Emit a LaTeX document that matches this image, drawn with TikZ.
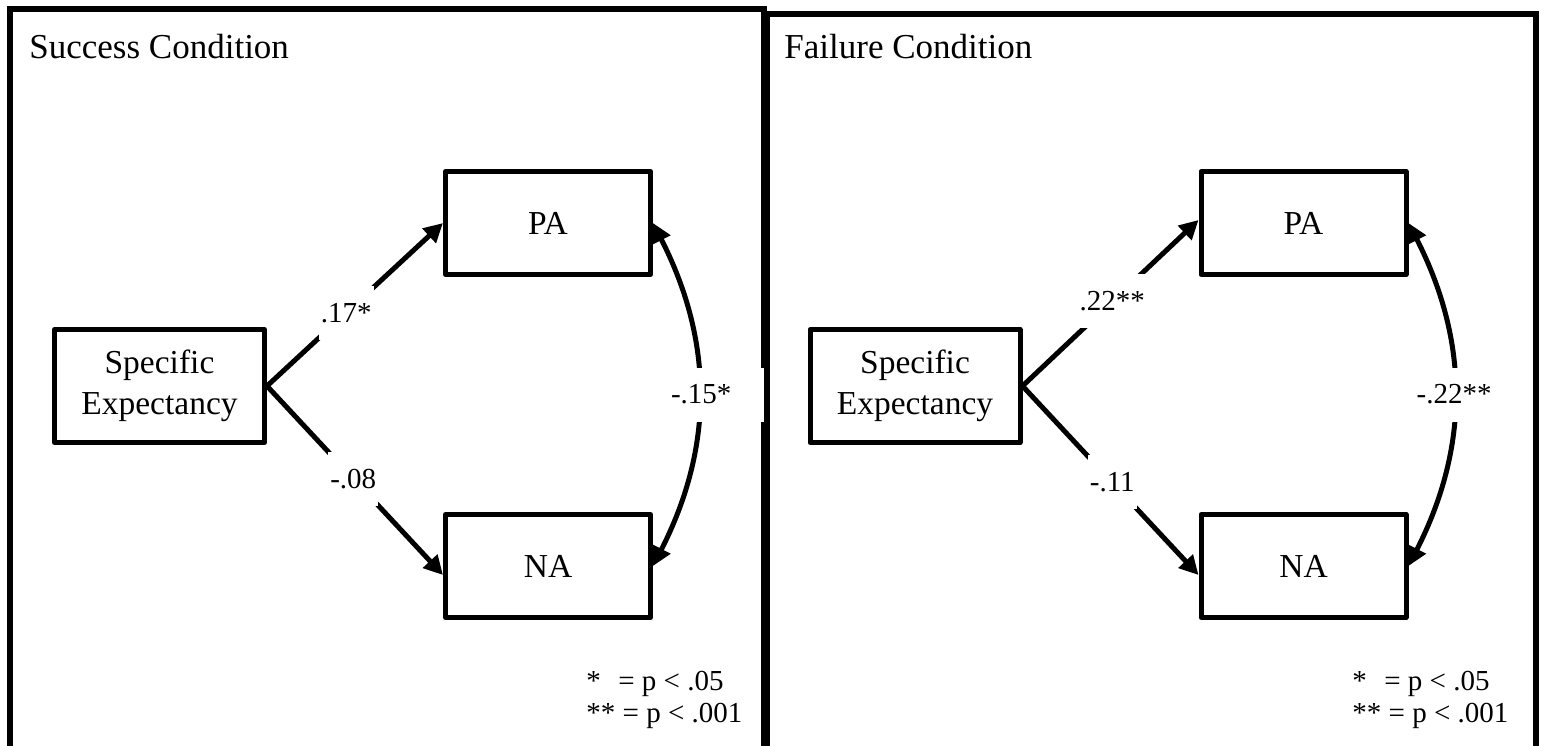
\documentclass[tikz,border=0pt]{standalone}
\usepackage{fontspec}
\setmainfont{Liberation Serif}
\usetikzlibrary{arrows.meta}
\begin{document}
\begin{tikzpicture}[x=0.5pt,y=-0.5pt,
  panel/.style={draw=black, line width=2.75pt},
  var/.style={draw=black, line width=2.5pt, line join=round, inner sep=0pt, minimum width=102.5pt, minimum height=51.5pt, font=\fontsize{16.75}{20.5}\selectfont},
  sebox/.style={var, minimum width=105pt, minimum height=56.5pt, align=center},
  effect/.style={line width=2.5pt, -{Triangle[length=9.5pt,width=9.5pt]}},
  cov/.style={line width=2.5pt, {Triangle[length=9.5pt,width=9.5pt]}-{Triangle[length=9.5pt,width=9.5pt]}},
  coef/.style={fill=white, inner xsep=1pt, inner ysep=0pt, minimum height=27pt, font=\fontsize{14.5}{17}\selectfont},
  title/.style={anchor=base west, inner sep=0pt, font=\fontsize{17.5}{20}\selectfont},
  note/.style={anchor=base west, inner sep=0pt, font=\fontsize{14.5}{17}\selectfont}]
\useasboundingbox (0,0) rectangle (1541,745);
\clip (0,0) rectangle (1541,745);
\fill[white] (0,0) rectangle (1541,745);

% ---------- left panel ----------
\draw[panel] (10,9) rectangle (764,800);
\node[title] (t1) at (29,58) {Success Condition};
\node[sebox] (se1) at (159.5,386) {Specific\\Expectancy};
\node[var] (pa1) at (548,223) {PA};
\node[var] (na1) at (548,566) {NA};
\draw[effect] (se1.east) -- node[coef,pos=0.45] {.17*} (pa1.west);
\draw[effect] (se1.east) -- node[coef,pos=0.49] {-.08} ([yshift=-4.5pt]na1.west);
\draw[cov] (pa1.east) to[bend left=27] node[coef, anchor=west, xshift=-16pt, text width=46.5pt, align=left] {-.15*} (na1.east);
\node[note] (n1a) at (586,690) {*\hspace{0.6em}= p < .05};
\node[note] (n1b) at (586,722) {** = p < .001};

% ---------- right panel ----------
\draw[panel] (767,14) rectangle (1536,800);
\node[title] (t2) at (784,58) {Failure Condition};
\node[sebox] (se2) at (915,386) {Specific\\Expectancy};
\node[var] (pa2) at (1303.5,223) {PA};
\node[var] (na2) at (1303.5,566) {NA};
\draw[effect] (se2.east) -- node[coef,pos=0.51] {.22**} ([yshift=1.5pt]pa2.west);
\draw[effect] (se2.east) -- node[coef,pos=0.51] {-.11} ([yshift=-4.5pt]na2.west);
\draw[cov] (pa2.east) to[bend left=27] node[coef] {-.22**} (na2.east);
\node[note] (n2a) at (1352,690) {*\hspace{0.6em}= p < .05};
\node[note] (n2b) at (1352,722) {** = p < .001};
\end{tikzpicture}
\end{document}
